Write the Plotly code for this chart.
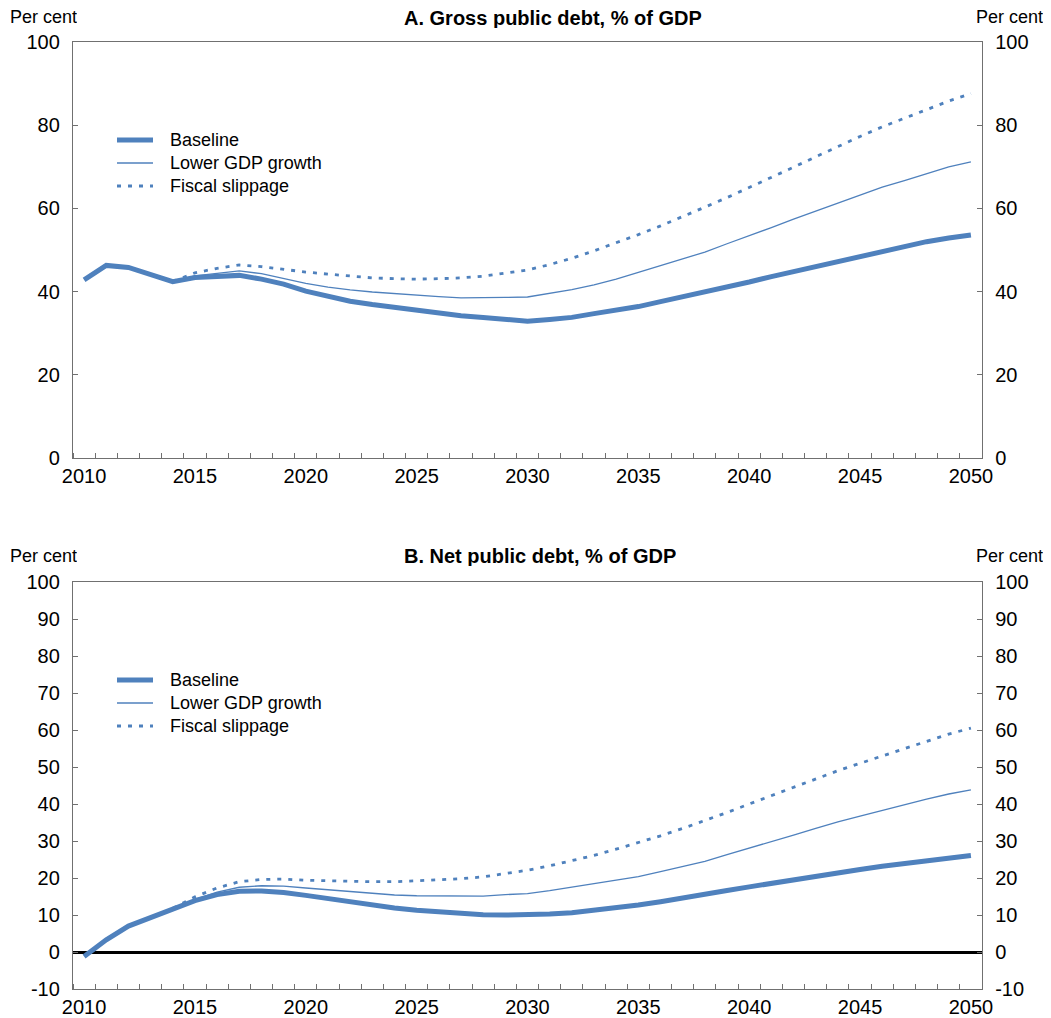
import plotly.graph_objects as go

years = list(range(2010, 2051))
proj_years = list(range(2014, 2051))

gross_baseline = [42.8, 46.3, 45.8, 44.0, 42.4, 43.4, 43.6, 43.9, 43.0, 41.8,
                  40.1, 38.8, 37.7, 36.9, 36.2, 35.6, 35.0, 34.2, 33.8, 33.4,
                  32.9, 33.3, 33.8, 34.7, 35.5, 36.4, 37.6, 38.7, 39.8, 41.1,
                  42.3, 43.6, 44.8, 46.1, 47.4, 48.6, 49.9, 50.9, 52.0, 52.9, 53.6]
gross_lower = [42.4, 43.8, 44.4, 45.0, 44.3, 43.2, 42.0, 41.1, 40.4, 39.9,
               39.5, 39.2, 38.8, 38.5, 38.5, 38.6, 38.7, 39.6, 40.5, 41.6,
               43.0, 44.6, 46.2, 47.8, 49.5, 51.5, 53.4, 55.4, 57.4, 59.3,
               61.3, 63.2, 65.1, 66.7, 68.4, 70.0, 71.2]
gross_fiscal = [42.4, 44.5, 45.6, 46.4, 46.0, 45.3, 44.7, 44.2, 43.7, 43.3,
                43.1, 43.0, 43.1, 43.3, 43.7, 44.4, 45.2, 46.5, 48.0, 49.8,
                51.7, 53.7, 55.8, 58.0, 60.3, 62.6, 65.0, 67.4, 69.9, 72.4,
                74.9, 77.3, 79.6, 81.7, 83.8, 85.8, 87.6]

net_baseline = [-1.2, 3.3, 7.0, 9.2, 11.4, 13.9, 15.5, 16.4, 16.5, 16.1,
                15.3, 14.4, 13.4, 12.6, 11.9, 11.3, 10.8, 10.4, 10.1, 10.0,
                10.0, 10.3, 10.6, 11.2, 11.9, 12.7, 13.6, 14.5, 15.5, 16.6,
                17.6, 18.6, 19.6, 20.6, 21.5, 22.3, 23.2, 24.0, 24.8, 25.5, 26.1]
net_lower = [11.5, 14.2, 16.2, 17.5, 17.9, 17.8, 17.3, 16.8, 16.3, 15.8,
             15.4, 15.2, 15.1, 15.1, 15.1, 15.5, 15.8, 16.6, 17.5, 18.4,
             19.4, 20.4, 21.7, 23.0, 24.5, 26.3, 28.0, 29.8, 31.6, 33.4,
             35.2, 36.7, 38.3, 39.8, 41.3, 42.7, 43.8]
net_fiscal = [11.8, 14.9, 17.3, 19.0, 19.6, 19.7, 19.4, 19.2, 19.0, 19.0,
              19.0, 19.2, 19.5, 19.8, 20.3, 21.1, 22.1, 23.3, 24.6, 26.1,
              27.8, 29.5, 31.4, 33.4, 35.5, 37.7, 40.0, 42.3, 44.6, 46.9,
              49.0, 51.0, 53.0, 55.0, 57.0, 58.9, 60.5]

series_names = ["Baseline", "Lower GDP growth", "Fiscal slippage"]
x_labels = [str(y) for y in range(2010, 2051, 5)]
gross_ticks = [0, 20, 40, 60, 80, 100]
net_ticks = list(range(-10, 101, 10))
net_tick_text = [str(v) for v in net_ticks]  # plain hyphen minus as in the original

OFF = 8  # default page margin around the plot div
W, H = 1051 - OFF, 1018 - OFF
BLUE = "#4F81BD"
AXC = "#707070"
FONT = "Liberation Sans, Arial, sans-serif"


def px(x):
    return (x - OFF) / W


def py(y):
    return 1 - (y - OFF) / H


fig = go.Figure()

styles = [dict(color=BLUE, width=5),
          dict(color=BLUE, width=1.3),
          dict(color=BLUE, width=2.8, dash="4px,7px")]

panels = [
    ("x", "y", (gross_baseline, gross_lower, gross_fiscal)),
    ("x2", "y3", (net_baseline, net_lower, net_fiscal)),
]
for xa, ya, data in panels:
    for i, (name, vals) in enumerate(zip(series_names, data)):
        xs = years if i == 0 else proj_years
        fig.add_trace(go.Scatter(x=xs, y=vals, mode="lines", name=name,
                                 line=styles[i], xaxis=xa, yaxis=ya,
                                 showlegend=False, hoverinfo="x+y"))

xdom = [px(73), px(982)]
top_dom = [py(458), py(42)]
bot_dom = [py(989), py(582)]

xcommon = dict(range=[2009.5, 2050.5], tickmode="array", tickvals=list(range(2010, 2051, 5)),
               ticktext=x_labels, ticks="", showgrid=False, zeroline=False,
               showline=True, linecolor=AXC, linewidth=1.3, mirror=True,
               automargin=False,
               tickfont=dict(size=20, color="#000", family=FONT),
               minor=dict(tickmode="array", tickvals=[y + 0.5 for y in range(2009, 2051)],
                          ticks="inside", ticklen=5, tickcolor=AXC, tickwidth=1, showgrid=False),
               domain=xdom, fixedrange=True)

ycommon = dict(showgrid=False, ticks="inside", ticklen=5, tickcolor=AXC, tickwidth=1,
               showline=True, linecolor=AXC, linewidth=1.3, automargin=False,
               ticklabelstandoff=8,
               tickfont=dict(size=20, color="#000", family=FONT), fixedrange=True)

fig.update_layout(
    width=W, height=H,
    margin=dict(l=0, r=0, t=0, b=0, autoexpand=False),
    paper_bgcolor="white", plot_bgcolor="white",
    font=dict(family=FONT, color="#000"),
    showlegend=False,
    xaxis=dict(**xcommon, anchor="y"),
    xaxis2=dict(**xcommon, anchor="y3"),
    yaxis=dict(**ycommon, domain=top_dom, range=[0, 100], tickvals=gross_ticks,
               anchor="x", side="left", zeroline=False),
    yaxis2=dict(**ycommon, domain=top_dom, range=[0, 100], tickvals=gross_ticks,
                anchor="x", overlaying="y", side="right", zeroline=False),
    yaxis3=dict(**ycommon, domain=bot_dom, range=[-10, 100], tickvals=net_ticks,
                ticktext=net_tick_text, anchor="x2", side="left", zeroline=True,
                zerolinecolor="#000", zerolinewidth=2.6),
    yaxis4=dict(**ycommon, domain=bot_dom, range=[-10, 100], tickvals=net_ticks,
                ticktext=net_tick_text, anchor="x2", overlaying="y3", side="right",
                zeroline=False),
)

# invisible traces so the right-hand axes are drawn
fig.add_trace(go.Scatter(x=[2010], y=[None], xaxis="x", yaxis="y2", showlegend=False, hoverinfo="skip"))
fig.add_trace(go.Scatter(x=[2010], y=[None], xaxis="x2", yaxis="y4", showlegend=False, hoverinfo="skip"))

# legends (drawn as key samples plus labels, one per panel)
legend_styles = [dict(color=BLUE, width=5),
                 dict(color=BLUE, width=1.3),
                 dict(color=BLUE, width=2.8, dash="4px,7px")]
for top in (140, 680):
    for i, name in enumerate(series_names):
        yy = top + i * 23
        fig.add_shape(type="line", xref="paper", yref="paper",
                      x0=px(117), x1=px(153), y0=py(yy), y1=py(yy),
                      line=legend_styles[i])
        fig.add_annotation(text=name, x=px(168), y=py(yy), xref="paper", yref="paper",
                           xanchor="left", yanchor="middle", showarrow=False,
                           font=dict(size=18, family=FONT, color="#000"))

annots = [
    ("<b>A. Gross public debt, % of GDP</b>", 553, 18, "center", 20),
    ("Per cent", 8, 17, "left", 18),
    ("Per cent", 1045, 17, "right", 18),
    ("<b>B. Net public debt, % of GDP</b>", 540, 556, "center", 20),
    ("Per cent", 8, 556, "left", 18),
    ("Per cent", 1045, 556, "right", 18),
]
for text, x, y, anc, sz in annots:
    fig.add_annotation(text=text, x=px(x), y=py(y), xref="paper", yref="paper",
                       xanchor=anc, yanchor="middle", showarrow=False, height=20,
                       font=dict(size=sz, family=FONT, color="#000"))

fig.write_html("out.html")
